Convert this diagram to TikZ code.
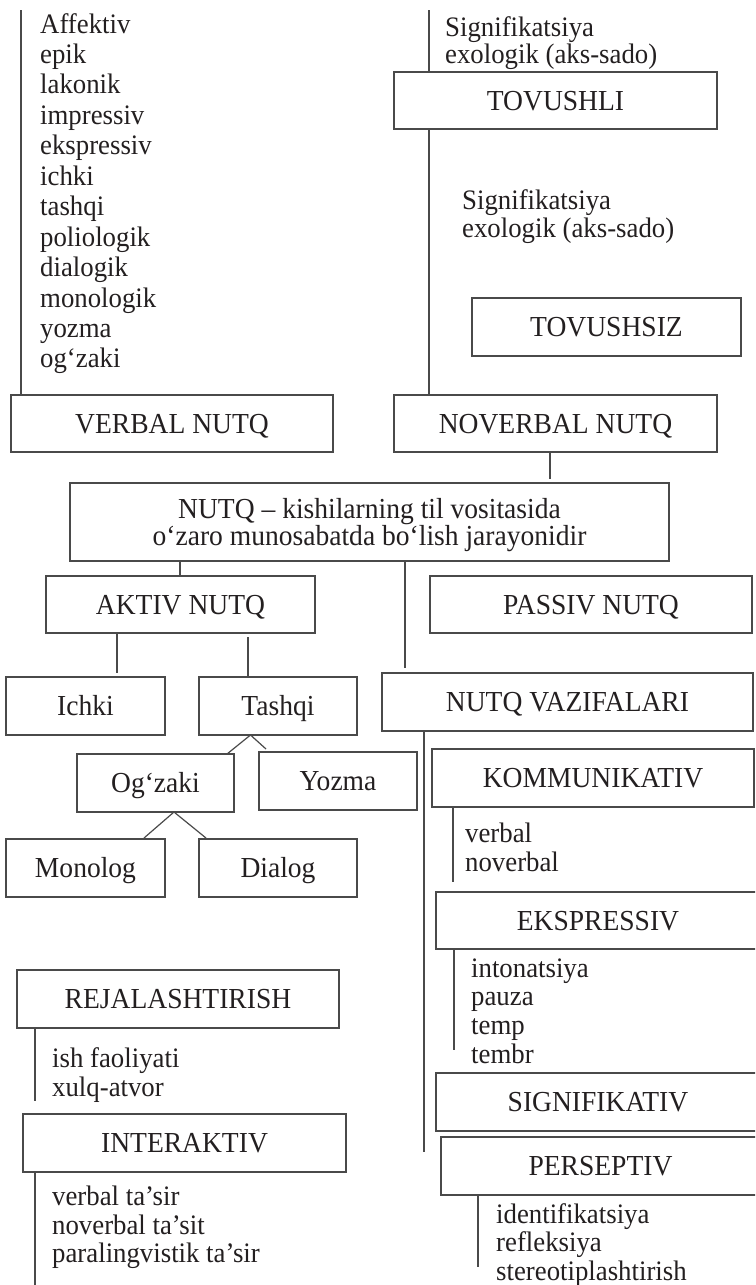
\documentclass[tikz,border=0pt]{standalone}
\usepackage{fontspec}
\setmainfont{Liberation Serif}[FakeStretch=0.95]
\definecolor{ink}{HTML}{231F20}
\definecolor{linecol}{HTML}{4A4A4A}
\newcommand\bxfont{\fontsize{29}{29}\selectfont}
\newcommand\lsfont{\fontsize{28.2}{29}\selectfont}
\tikzset{
  box/.style={draw=linecol, line width=1.2pt, inner sep=0pt, text=ink, font=\bxfont, text height=19pt, text depth=0pt},
  conn/.style={draw=linecol, line width=1.2pt},
  item/.style={anchor=base west, inner sep=0pt, text=ink, font=\lsfont},
}
\begin{document}
\begin{tikzpicture}[x=1pt,y=-1pt]
\useasboundingbox (0,0) rectangle (755,1285);
\clip (0,0) rectangle (755,1285);

% boxes
\node[box, minimum width=322pt, minimum height=57pt] (verbal)   at (172,423.5)   {VERBAL NUTQ};
\node[box, minimum width=323pt, minimum height=57pt] (tovushli) at (555.5,100.5) {TOVUSHLI};
\node[box, minimum width=269pt, minimum height=58pt] (tovushsiz) at (606.5,327)  {TOVUSHSIZ};
\node[box, minimum width=323pt, minimum height=57pt] (noverbal) at (555.5,423.5) {NOVERBAL NUTQ};
\node[draw=linecol, line width=1.2pt, inner sep=0pt, text=ink, font=\fontsize{29}{26}\selectfont, align=center,
      minimum width=599pt, minimum height=78pt] (nutq) at (369.5,522)
      {\rule{0pt}{26pt}NUTQ – kishilarning til vositasida\\o‘zaro munosabatda bo‘lish jarayonidir};
\node[box, minimum width=269pt, minimum height=57pt] (aktiv)  at (180.5,604.5) {AKTIV NUTQ};
\node[box, minimum width=322pt, minimum height=57pt] (passiv) at (591,604.5)   {PASSIV NUTQ};
\node[box, minimum width=159pt, minimum height=58pt] (ichki)  at (85.5,706)    {Ichki};
\node[box, minimum width=158pt, minimum height=58pt] (tashqi) at (278,706)     {Tashqi};
\node[box, minimum width=371pt, minimum height=58pt] (vaz)    at (567.5,702)   {NUTQ VAZIFALARI};
\node[box, minimum width=157pt, minimum height=58pt] (ogzaki) at (155.5,783)   {Og‘zaki};
\node[box, minimum width=158pt, minimum height=58pt] (yozma)  at (338,781)     {Yozma};
\node[box, minimum width=322pt, minimum height=58pt] (komm)   at (593,778)     {KOMMUNIKATIV};
\node[box, minimum width=159pt, minimum height=58pt] (monolog) at (85.5,868)   {Monolog};
\node[box, minimum width=158pt, minimum height=58pt] (dialog) at (278,868)     {Dialog};
\node[box, minimum width=324pt, minimum height=57pt] (eksp)   at (598,920.5)   {EKSPRESSIV};
\node[box, minimum width=322pt, minimum height=58pt] (rej)    at (178,999)     {REJALASHTIRISH};
\node[box, minimum width=324pt, minimum height=58pt] (sign)   at (598,1102)    {SIGNIFIKATIV};
\node[box, minimum width=323pt, minimum height=58pt] (inter)  at (184.5,1143)  {INTERAKTIV};
\node[box, minimum width=319pt, minimum height=58pt] (pers)   at (600.5,1166)  {PERSEPTIV};

% lists
\foreach \t [count=\i] in {Affektiv,epik,lakonik,impressiv,ekspressiv,ichki,tashqi,poliologik,dialogik,monologik,yozma,og‘zaki}
  \node[item] (va\i) at (40,{33+30.45*(\i-1)}) {\t};
\node[item] (sa1) at (445,36)   {Signifikatsiya};
\node[item] (sa2) at (445,63.5) {exologik (aks-sado)};
\node[item] (sb1) at (462,209)  {Signifikatsiya};
\node[item] (sb2) at (462,237)  {exologik (aks-sado)};
\node[item] (ka1) at (465,842)  {verbal};
\node[item] (ka2) at (465,871)  {noverbal};
\node[item] (ea1) at (471,977)    {intonatsiya};
\node[item] (ea2) at (471,1005.5) {pauza};
\node[item] (ea3) at (471,1034)   {temp};
\node[item] (ea4) at (471,1063)   {tembr};
\node[item] (ra1) at (52,1067) {ish faoliyati};
\node[item] (ra2) at (52,1096) {xulq-atvor};
\node[item] (ia1) at (52,1205.5) {verbal ta’sir};
\node[item] (ia2) at (52,1234)   {noverbal ta’sit};
\node[item] (ia3) at (52,1262.5) {paralingvistik ta’sir};
\node[item] (pa1) at (496,1223) {identifikatsiya};
\node[item] (pa2) at (496,1251.5) {refleksiya};
\node[item] (pa3) at (496,1280) {stereotiplashtirish};

% connectors
\coordinate (ta) at (21,10);
\draw[conn] (ta) -- (ta |- verbal.north);
\coordinate (tb) at (429,10);
\draw[conn] (tb) -- (tb |- tovushli.north);
\draw[conn] (tb |- tovushli.south) -- (tb |- noverbal.north);
\coordinate (xc) at (550,479);
\draw[conn] (xc |- noverbal.south) -- (xc);
\coordinate (xd) at (180,0);
\draw[conn] (xd |- nutq.south) -- (xd |- aktiv.north);
\coordinate (xe) at (405,668);
\draw[conn] (xe |- nutq.south) -- (xe);
\coordinate (xf) at (117,673);
\draw[conn] (xf |- aktiv.south) -- (xf);
\coordinate (xg) at (248,637);
\draw[conn] (xg) -- (xg |- tashqi.north);
\coordinate (ap1) at (250.5,735);
\coordinate (og1) at (227,754);
\coordinate (yz1) at (266,749);
\draw[conn] (og1) -- (ap1) -- (yz1);
\coordinate (ap2) at (174,812);
\coordinate (mo1) at (144,838);
\coordinate (di1) at (206,838);
\draw[conn] (mo1) -- (ap2) -- (di1);
\coordinate (xh) at (424,1152);
\draw[conn] (xh |- vaz.south) -- (xh);
\coordinate (xi) at (453,882);
\draw[conn] (xi |- komm.south) -- (xi);
\coordinate (xj) at (454,1050);
\draw[conn] (xj |- eksp.south) -- (xj);
\coordinate (xk) at (35,1101);
\draw[conn] (xk |- rej.south) -- (xk);
\coordinate (xl) at (35,1290);
\draw[conn] (xl |- inter.south) -- (xl);
\coordinate (xm) at (478,1267);
\draw[conn] (xm |- pers.south) -- (xm);
\end{tikzpicture}
\end{document}
